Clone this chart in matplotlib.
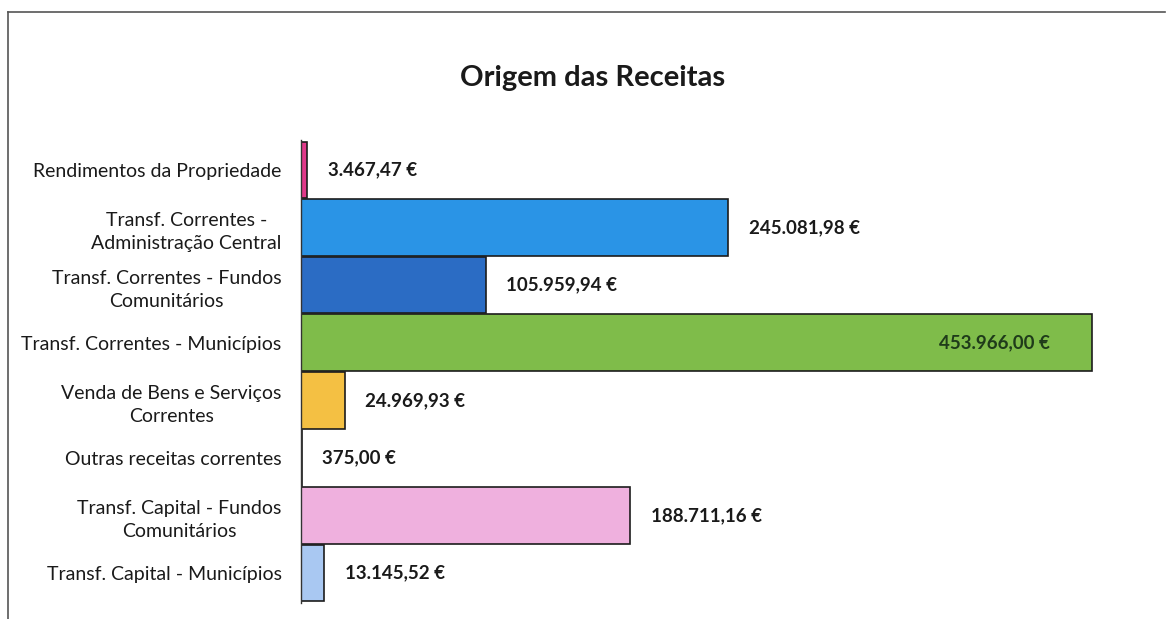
import numpy as np
import matplotlib.pyplot as plt
from matplotlib.lines import Line2D

plt.rcParams["font.family"] = ["Lato", "DejaVu Sans"]

categories = [
    "Rendimentos da Propriedade",
    "Transf. Correntes -\nAdministração Central",
    "Transf. Correntes - Fundos\nComunitários",
    "Transf. Correntes - Municípios",
    "Venda de Bens e Serviços\nCorrentes",
    "Outras receitas correntes",
    "Transf. Capital - Fundos\nComunitários",
    "Transf. Capital - Municípios",
]
values = [3467.47, 245081.98, 105959.94, 453966.00, 24969.93, 375.00, 188711.16, 13145.52]
value_labels = ["3.467,47 €", "245.081,98 €", "105.959,94 €", "453.966,00 €",
                "24.969,93 €", "375,00 €", "188.711,16 €", "13.145,52 €"]
colors = ["#e0388a", "#2a94e6", "#2b6cc4", "#7fbc4a", "#f4c043", "#ffffff", "#efb0de", "#a9c8f2"]

W, H = 1173, 619
fig = plt.figure(figsize=(W / 100, H / 100), dpi=100)
ax = fig.add_axes([301 / W, 1 - 603 / H, (1110 - 301) / W, (603 - 140) / H])

y = np.arange(len(categories))
ax.barh(y, values, height=0.98, color=colors, edgecolor="#1c1c1c", linewidth=1.2)
ax.set_ylim(len(categories) - 0.48, -0.52)
ax.set_xlim(0, 464300)

ax.set_yticks(y)
ax.set_yticklabels(categories, fontsize=14, color="#1a1a1a", linespacing=1.45)
for t in ax.get_yticklabels():
    t.set_multialignment("center")
ax.tick_params(axis="y", length=0, pad=14)
ax.tick_params(axis="x", bottom=False, labelbottom=False)
for s in ["top", "right", "bottom"]:
    ax.spines[s].set_visible(False)
ax.spines["left"].set_color("#333333")
ax.spines["left"].set_linewidth(1.0)

xmax = max(values)
for yi, v, lab in zip(y, values, value_labels):
    if v == xmax:
        ax.annotate(lab, (v, yi), xytext=(-30, 0), textcoords="offset points",
                    ha="right", va="center", fontsize=13.5, fontweight="bold", color="#1f3b1a")
    else:
        ax.annotate(lab, (v, yi), xytext=(15, 0), textcoords="offset points",
                    ha="left", va="center", fontsize=13.5, fontweight="bold", color="#1a1a1a")

fig.text(593 / W, 1 - 78 / H, "Origem das Receitas", ha="center", va="center",
         fontsize=21, fontweight="bold", color="#1a1a1a")

# frame around the chart area (scanned page)
fig.add_artist(Line2D([8 / W, 8 / W], [0, 1 - 12 / H], transform=fig.transFigure, color="#555555", lw=1.2))
fig.add_artist(Line2D([8 / W, 1165 / W], [1 - 12 / H, 1 - 12 / H], transform=fig.transFigure, color="#555555", lw=1.2))

fig.savefig("out.png", dpi=100)
